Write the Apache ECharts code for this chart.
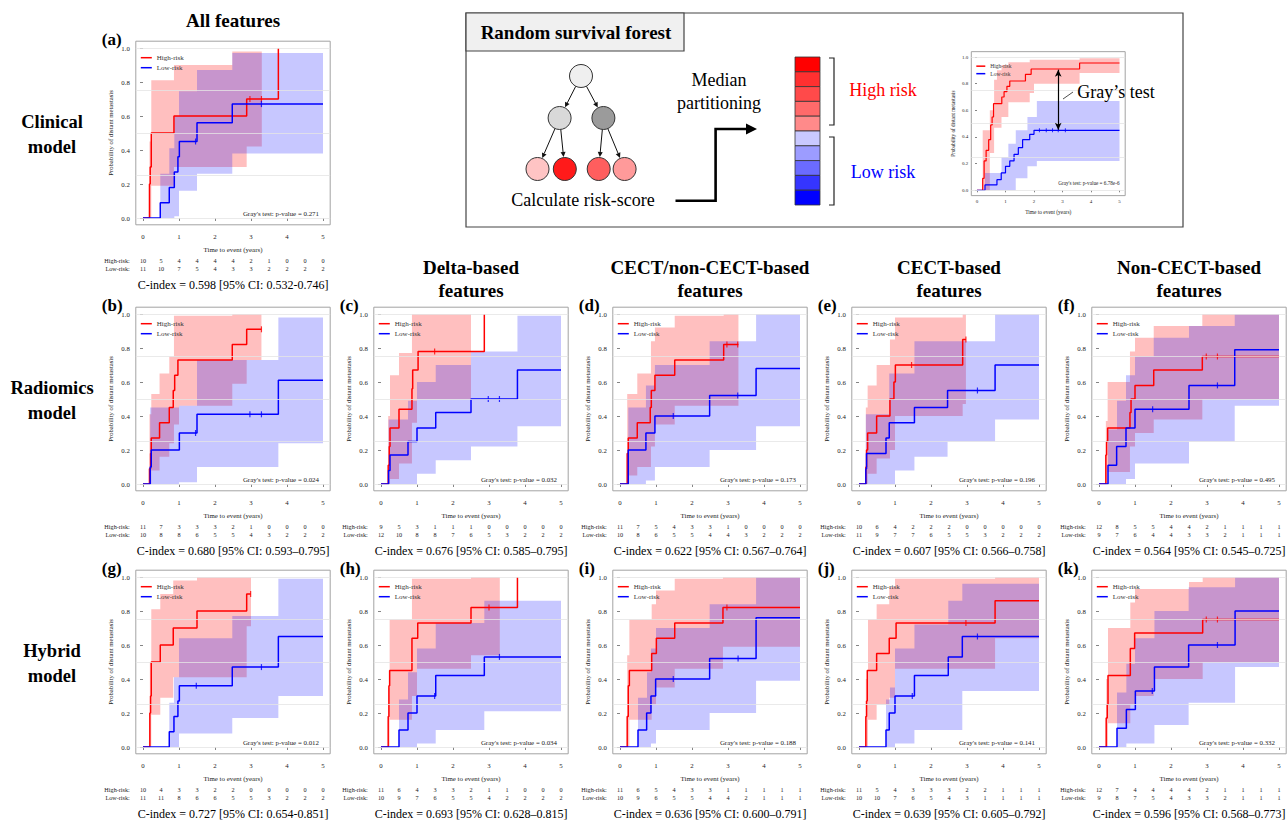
<!DOCTYPE html>
<html><head><meta charset="utf-8">
<script src="https://cdn.jsdelivr.net/npm/echarts@6/dist/echarts.min.js"></script>
<style>html,body{margin:0;padding:0;background:#fff}#c{width:1287px;height:823px}</style>
</head><body><div id="c"></div><script>
const FONT = "'Liberation Serif','Times New Roman',serif";
const riskTimes = [0,0.5,1,1.5,2,2.5,3,3.5,4,4.5,5];
const xTicks = [0,1,2,3,4,5];
const yTicks = [0,0.2,0.4,0.6,0.8,1];
const refLines = [0,0.25,0.5,0.75,1];
const colTitles = ['All features','Delta-based\nfeatures','CECT/non-CECT-based\nfeatures','CECT-based\nfeatures','Non-CECT-based\nfeatures'];
const rowTitles = ['Clinical\nmodel','Radiomics\nmodel','Hybrid\nmodel'];

// (a) Clinical, all features
const aHighT=[0,0.18,0.2,0.23,0.86,2.88,3.76];
const aHighY=[0,0.2,0.3,0.5,0.6,0.7,1.0];
const aHighCens=[2.97,3.29];
const aHighBandT=[0.18,0.23,0.86,2.48,2.88,3.3];
const aHighBandLo=[0,0.19,0.3,0.3,0.42];
const aHighBandHi=[0.45,0.81,0.9,0.98,0.98];
const aLowT=[0,0.48,0.73,0.87,0.97,1.01,1.5,2.48,5];
const aLowY=[0,0.09,0.18,0.27,0.36,0.45,0.56,0.67,0.67];
const aLowCens=[1.46,3.29];
const aLowBandT=[0.48,0.73,0.87,1.0,1.5,2.48,5];
const aLowBandLo=[0,0,0.01,0.16,0.26,0.38];
const aLowBandHi=[0.26,0.41,0.6,0.745,0.87,0.97];
const aRiskHigh=[10,5,4,4,4,4,2,1,0,0,0];
const aRiskLow=[11,10,7,5,4,3,3,2,2,2,2];

// (b)
const bHighT=[0,0.18,0.21,0.23,0.46,0.73,0.84,0.88,0.97,2.48,2.88,3.29];
const bHighY=[0,0.09,0.18,0.27,0.36,0.45,0.55,0.64,0.73,0.82,0.91,0.91];
const bHighCens=[3.29];
const bHighBandT=[0.18,0.23,0.46,0.73,0.86,1.0,1.5,2.48,2.88,3.29];
const bHighBandLo=[0,0.08,0.16,0.24,0.35,0.46,0.46,0.59,0.73];
const bHighBandHi=[0.41,0.53,0.65,0.75,0.99,0.99,0.99,1.0,1.0];
const bLowT=[0,0.2,0.23,1.01,1.5,3.76,5];
const bLowY=[0,0.1,0.2,0.3,0.41,0.61,0.61];
const bLowCens=[1.46,2.97,3.29];
const bLowBandT=[0.2,0.5,1.0,1.5,3.76,5];
const bLowBandLo=[0,0,0.01,0.1,0.24];
const bLowBandHi=[0.45,0.45,0.46,0.73,0.98];
const bRiskHigh=[11,7,3,3,3,2,1,0,0,0,0];
const bRiskLow=[10,8,8,6,5,5,4,3,2,2,2];

// (c)
const cHighT=[0,0.2,0.23,0.25,0.5,0.86,0.88,1.03,2.87];
const cHighY=[0,0.11,0.22,0.33,0.44,0.56,0.67,0.78,1.0];
const cHighCens=[1.49];
const cHighBandT=[0.2,0.25,0.5,0.86,1.0,2.5];
const cHighBandLo=[0,0.03,0.12,0.36,0.5];
const cHighBandHi=[0.4,0.64,0.77,1.0,1.0];
const cLowT=[0,0.21,0.25,0.75,1.0,1.52,2.5,3.79,5];
const cLowY=[0,0.08,0.17,0.25,0.33,0.42,0.5,0.67,0.67];
const cLowCens=[2.98,3.29];
const cLowBandT=[0.21,0.75,1.0,1.52,2.5,3.79,5];
const cLowBandLo=[0,0,0.06,0.14,0.22,0.34];
const cLowBandHi=[0.38,0.49,0.6,0.7,0.78,0.99];
const cRiskHigh=[9,5,3,1,1,1,0,0,0,0,0];
const cRiskLow=[12,10,8,8,7,6,5,3,2,2,2];

// (d)
const dHighT=[0,0.2,0.23,0.48,0.84,0.87,0.97,1.52,2.88,3.29];
const dHighY=[0,0.18,0.27,0.36,0.45,0.55,0.64,0.73,0.82,0.82];
const dHighCens=[2.97,3.27];
const dHighBandT=[0.2,0.48,0.86,0.97,1.52,2.88,3.29];
const dHighBandLo=[0.05,0.1,0.22,0.35,0.46,0.46];
const dHighBandHi=[0.53,0.65,0.84,0.92,0.99,1.0];
const dLowT=[0,0.23,0.72,0.97,2.49,3.78,5];
const dLowY=[0,0.2,0.3,0.4,0.52,0.68,0.68];
const dLowCens=[1.48,3.27];
const dLowBandT=[0.23,0.5,0.72,0.97,2.49,3.78,5];
const dLowBandLo=[0,0,0.02,0.1,0.2,0.34];
const dLowBandHi=[0.45,0.45,0.58,0.7,0.84,1.0];
const dRiskHigh=[11,7,5,4,3,3,1,0,0,0,0];
const dRiskLow=[10,8,6,5,5,4,4,3,2,2,2];

// (e)
const eHighT=[0,0.19,0.21,0.24,0.49,0.86,0.97,1.01,2.88,2.97];
const eHighY=[0,0.1,0.2,0.3,0.4,0.5,0.6,0.7,0.85,0.85];
const eHighCens=[1.46,2.97];
const eHighBandT=[0.19,0.24,0.49,0.86,1.0,2.88,2.97];
const eHighBandLo=[0,0.06,0.15,0.2,0.4,0.47];
const eHighBandHi=[0.45,0.58,0.7,0.85,0.98,1.0];
const eLowT=[0,0.19,0.21,0.75,0.84,1.54,2.46,3.78,5];
const eLowY=[0,0.09,0.18,0.27,0.36,0.45,0.55,0.7,0.7];
const eLowCens=[3.29];
const eLowBandT=[0.19,0.5,0.84,1.0,1.54,2.46,3.78,5];
const eLowBandLo=[0,0,0,0.08,0.16,0.25,0.38];
const eLowBandHi=[0.41,0.41,0.65,0.65,0.84,0.84,1.0];
const eRiskHigh=[10,6,4,2,2,2,0,0,0,0,0];
const eRiskLow=[11,9,7,7,6,5,5,3,2,2,2];

// (f)
const fHighT=[0,0.19,0.21,0.24,0.86,0.89,1.0,1.52,2.87,5];
const fHighY=[0,0.17,0.25,0.33,0.42,0.5,0.58,0.67,0.75,0.75];
const fHighCens=[2.98,3.29];
const fHighBandT=[0.19,0.24,0.5,0.86,1.0,1.52,2.87,3.8,5];
const fHighBandLo=[0,0.07,0.07,0.22,0.3,0.38,0.5,0.5];
const fHighBandHi=[0.37,0.6,0.6,0.78,0.86,0.93,1.0,1.0];
const fLowT=[0,0.25,0.49,0.75,1.0,2.5,3.77,5];
const fLowY=[0,0.11,0.22,0.33,0.44,0.58,0.79,0.79];
const fLowCens=[1.49,3.29];
const fLowBandT=[0.25,0.5,0.75,1.0,1.52,2.5,3.77,5];
const fLowBandLo=[0,0,0.03,0.12,0.12,0.25,0.46];
const fLowBandHi=[0.32,0.49,0.64,0.75,0.86,0.93,1.0];
const fRiskHigh=[12,8,5,5,4,4,2,1,1,1,1];
const fRiskLow=[9,7,6,4,4,3,3,2,1,1,1];

// (g)
const gHighT=[0,0.19,0.21,0.23,0.48,0.84,1.5,2.88,2.99];
const gHighY=[0,0.2,0.3,0.5,0.6,0.7,0.8,0.9,0.9];
const gHighCens=[2.99];
const gHighBandT=[0.19,0.23,0.48,0.84,1.5,2.88,3.0];
const gHighBandLo=[0,0.19,0.29,0.41,0.41,0.71];
const gHighBandHi=[0.5,0.81,0.9,0.98,1.0,1.0];
const gLowT=[0,0.73,0.86,0.97,1.01,2.48,3.76,5];
const gLowY=[0,0.09,0.18,0.27,0.36,0.47,0.65,0.65];
const gLowCens=[1.48,3.29];
const gLowBandT=[0.73,0.86,1.0,2.48,3.76,5];
const gLowBandLo=[0,0,0.08,0.17,0.3];
const gLowBandHi=[0.26,0.41,0.64,0.77,0.99];
const gRiskHigh=[10,4,3,3,2,2,0,0,0,0,0];
const gRiskLow=[11,11,8,6,6,5,5,3,2,2,2];

// (h)
const hHighT=[0,0.2,0.22,0.24,0.86,1.02,2.5,3.79];
const hHighY=[0,0.18,0.36,0.45,0.64,0.73,0.82,1.0];
const hHighCens=[3.0];
const hHighBandT=[0.2,0.24,0.86,1.0,2.5,3.3];
const hHighBandLo=[0,0.16,0.3,0.46,0.54];
const hHighBandHi=[0.35,0.75,0.99,0.99,1.0];
const hLowT=[0,0.5,0.75,1.0,1.52,2.87,5];
const hLowY=[0,0.1,0.2,0.3,0.42,0.53,0.53];
const hLowCens=[1.49,3.29];
const hLowBandT=[0.5,0.75,1.0,1.52,2.87,5];
const hLowBandLo=[0,0,0.02,0.1,0.21];
const hLowBandHi=[0.28,0.44,0.58,0.73,0.86];
const hRiskHigh=[11,6,4,3,3,2,1,1,0,0,0];
const hRiskLow=[10,9,7,6,5,5,4,2,2,2,2];

// (i)
const iHighT=[0,0.2,0.23,0.26,0.88,1.01,1.52,2.86,5];
const iHighY=[0,0.18,0.36,0.45,0.55,0.64,0.73,0.82,0.82];
const iHighCens=[2.97];
const iHighBandT=[0.2,0.26,0.88,1.0,1.52,2.86,5];
const iHighBandLo=[0,0.16,0.25,0.35,0.46,0.59];
const iHighBandHi=[0.54,0.75,0.84,0.92,0.99,1.0];
const iLowT=[0,0.5,0.74,0.86,0.99,2.49,3.78,5];
const iLowY=[0,0.1,0.2,0.3,0.4,0.52,0.76,0.76];
const iLowCens=[1.48,3.28];
const iLowBandT=[0.5,0.75,0.86,1.0,2.49,3.78,5];
const iLowBandLo=[0,0,0.02,0.1,0.2,0.39];
const iLowBandHi=[0.29,0.44,0.58,0.7,0.84,1.0];
const iRiskHigh=[11,6,5,4,3,3,1,1,1,1,1];
const iRiskLow=[10,9,6,5,5,4,4,2,1,1,1];

// (j)
const jHighT=[0,0.19,0.21,0.23,0.49,0.84,1.03,3.78,5];
const jHighY=[0,0.18,0.27,0.45,0.55,0.64,0.73,0.86,0.86];
const jHighCens=[2.97];
const jHighBandT=[0.19,0.25,0.49,0.84,1.0,3.78,5];
const jHighBandLo=[0,0.16,0.25,0.29,0.46,0.64];
const jHighBandHi=[0.4,0.75,0.84,0.94,0.99,1.0];
const jLowT=[0,0.75,0.84,1.0,1.54,2.48,2.87,5];
const jLowY=[0,0.1,0.2,0.3,0.42,0.53,0.65,0.65];
const jLowCens=[1.48,3.29];
const jLowBandT=[0.75,0.86,1.0,1.54,2.48,2.87,5];
const jLowBandLo=[0,0,0.02,0.1,0.1,0.33];
const jLowBandHi=[0.28,0.35,0.58,0.72,0.86,0.96];
const jRiskHigh=[11,5,4,3,3,3,2,2,1,1,1];
const jRiskLow=[10,10,7,6,5,4,3,1,1,1,1];

// (k)
const kHighT=[0,0.2,0.23,0.25,0.87,0.99,2.88,5];
const kHighY=[0,0.17,0.25,0.42,0.58,0.67,0.75,0.75];
const kHighCens=[2.98,3.29];
const kHighBandT=[0.2,0.25,0.87,1.0,1.52,2.5,2.88,5];
const kHighBandLo=[0,0.14,0.25,0.3,0.4,0.4,0.5];
const kHighBandHi=[0.4,0.7,0.85,0.93,0.93,0.97,1.0];
const kLowT=[0,0.5,0.76,1.01,1.54,2.49,3.78,5];
const kLowY=[0,0.11,0.22,0.33,0.47,0.6,0.8,0.8];
const kLowCens=[1.48,3.29];
const kLowBandT=[0.5,0.76,1.0,1.54,2.49,3.78,5];
const kLowBandLo=[0,0.02,0.02,0.13,0.26,0.47];
const kLowBandHi=[0.32,0.49,0.64,0.8,0.94,1.0];
const kRiskHigh=[12,7,4,4,4,4,2,1,1,1,1];
const kRiskLow=[9,8,7,5,4,3,3,2,1,1,1];

// schematic inset (random survival forest example)
const sHighT=[0,0.2,0.25,0.32,0.41,0.48,0.53,0.58,0.87,0.95,1.05,1.15,1.7,1.9,3.6,5];
const sHighY=[0,0.09,0.22,0.3,0.38,0.49,0.55,0.65,0.7,0.74,0.78,0.82,0.87,0.91,0.955,0.955];
const sHighCens=[];
const sHighBandT=[0.2,0.45,0.6,0.7,0.86,1.1,1.85,2.0,3.6,5];
const sHighBandLo=[0,0.28,0.47,0.47,0.55,0.66,0.73,0.8,0.88];
const sHighBandHi=[0.45,0.6,0.83,0.9,0.94,0.96,0.98,0.98,0.99];
const sLowT=[0,0.28,0.7,0.85,1.0,1.15,1.3,1.45,1.6,1.85,2.0,5];
const sLowY=[0,0.04,0.08,0.13,0.18,0.22,0.27,0.32,0.38,0.42,0.45,0.45];
const sLowCens=[2.19,2.43,2.65,2.85,3.1];
const sLowBandT=[0.28,0.86,1.1,1.36,1.77,2.1,5];
const sLowBandLo=[0,0,0,0.09,0.18,0.22];
const sLowBandHi=[0.13,0.25,0.35,0.45,0.55,0.67];
const sGrayArrow=[[2.85,0.905],[2.85,0.455]];

const panels = [
 {lab:'(a)',col:0,row:0,p:'0.271',ci:'C-index = 0.598 [95% CI: 0.532-0.746]',hT:aHighT,hY:aHighY,hC:aHighCens,hBT:aHighBandT,hBL:aHighBandLo,hBH:aHighBandHi,lT:aLowT,lY:aLowY,lC:aLowCens,lBT:aLowBandT,lBL:aLowBandLo,lBH:aLowBandHi,rH:aRiskHigh,rL:aRiskLow},
 {lab:'(b)',col:0,row:1,p:'0.024',ci:'C-index = 0.680 [95% CI: 0.593–0.795]',hT:bHighT,hY:bHighY,hC:bHighCens,hBT:bHighBandT,hBL:bHighBandLo,hBH:bHighBandHi,lT:bLowT,lY:bLowY,lC:bLowCens,lBT:bLowBandT,lBL:bLowBandLo,lBH:bLowBandHi,rH:bRiskHigh,rL:bRiskLow},
 {lab:'(c)',col:1,row:1,p:'0.032',ci:'C-index = 0.676 [95% CI: 0.585–0.795]',hT:cHighT,hY:cHighY,hC:cHighCens,hBT:cHighBandT,hBL:cHighBandLo,hBH:cHighBandHi,lT:cLowT,lY:cLowY,lC:cLowCens,lBT:cLowBandT,lBL:cLowBandLo,lBH:cLowBandHi,rH:cRiskHigh,rL:cRiskLow},
 {lab:'(d)',col:2,row:1,p:'0.173',ci:'C-index = 0.622 [95% CI: 0.567–0.764]',hT:dHighT,hY:dHighY,hC:dHighCens,hBT:dHighBandT,hBL:dHighBandLo,hBH:dHighBandHi,lT:dLowT,lY:dLowY,lC:dLowCens,lBT:dLowBandT,lBL:dLowBandLo,lBH:dLowBandHi,rH:dRiskHigh,rL:dRiskLow},
 {lab:'(e)',col:3,row:1,p:'0.196',ci:'C-index = 0.607 [95% CI: 0.566–0.758]',hT:eHighT,hY:eHighY,hC:eHighCens,hBT:eHighBandT,hBL:eHighBandLo,hBH:eHighBandHi,lT:eLowT,lY:eLowY,lC:eLowCens,lBT:eLowBandT,lBL:eLowBandLo,lBH:eLowBandHi,rH:eRiskHigh,rL:eRiskLow},
 {lab:'(f)',col:4,row:1,p:'0.495',ci:'C-index = 0.564 [95% CI: 0.545–0.725]',hT:fHighT,hY:fHighY,hC:fHighCens,hBT:fHighBandT,hBL:fHighBandLo,hBH:fHighBandHi,lT:fLowT,lY:fLowY,lC:fLowCens,lBT:fLowBandT,lBL:fLowBandLo,lBH:fLowBandHi,rH:fRiskHigh,rL:fRiskLow},
 {lab:'(g)',col:0,row:2,p:'0.012',ci:'C-index = 0.727 [95% CI: 0.654-0.851]',hT:gHighT,hY:gHighY,hC:gHighCens,hBT:gHighBandT,hBL:gHighBandLo,hBH:gHighBandHi,lT:gLowT,lY:gLowY,lC:gLowCens,lBT:gLowBandT,lBL:gLowBandLo,lBH:gLowBandHi,rH:gRiskHigh,rL:gRiskLow},
 {lab:'(h)',col:1,row:2,p:'0.034',ci:'C-index = 0.693 [95% CI: 0.628–0.815]',hT:hHighT,hY:hHighY,hC:hHighCens,hBT:hHighBandT,hBL:hHighBandLo,hBH:hHighBandHi,lT:hLowT,lY:hLowY,lC:hLowCens,lBT:hLowBandT,lBL:hLowBandLo,lBH:hLowBandHi,rH:hRiskHigh,rL:hRiskLow},
 {lab:'(i)',col:2,row:2,p:'0.188',ci:'C-index = 0.636 [95% CI: 0.600–0.791]',hT:iHighT,hY:iHighY,hC:iHighCens,hBT:iHighBandT,hBL:iHighBandLo,hBH:iHighBandHi,lT:iLowT,lY:iLowY,lC:iLowCens,lBT:iLowBandT,lBL:iLowBandLo,lBH:iLowBandHi,rH:iRiskHigh,rL:iRiskLow},
 {lab:'(j)',col:3,row:2,p:'0.141',ci:'C-index = 0.639 [95% CI: 0.605–0.792]',hT:jHighT,hY:jHighY,hC:jHighCens,hBT:jHighBandT,hBL:jHighBandLo,hBH:jHighBandHi,lT:jLowT,lY:jLowY,lC:jLowCens,lBT:jLowBandT,lBL:jLowBandLo,lBH:jLowBandHi,rH:jRiskHigh,rL:jRiskLow},
 {lab:'(k)',col:4,row:2,p:'0.332',ci:'C-index = 0.596 [95% CI: 0.568–0.773]',hT:kHighT,hY:kHighY,hC:kHighCens,hBT:kHighBandT,hBL:kHighBandLo,hBH:kHighBandHi,lT:kLowT,lY:kLowY,lC:kLowCens,lBT:kLowBandT,lBL:kLowBandLo,lBH:kLowBandHi,rH:kRiskHigh,rL:kRiskLow}
];
const inset = {p:'6.78e-6',hT:sHighT,hY:sHighY,hC:sHighCens,hBT:sHighBandT,hBL:sHighBandLo,hBH:sHighBandHi,lT:sLowT,lY:sLowY,lC:sLowCens,lBT:sLowBandT,lBL:sLowBandLo,lBH:sLowBandHi,arrow:sGrayArrow};

// ---------- layout ----------
const colX0=[143,381,620,859,1099];
const rowY1=[48,314,577];
const LM = {ux:36,uy:170,fsTick:6.8,fsName:6.9,fsYName:6.7,fsRisk:6.2,fsLeg:7,fsGray:6.9,tickLen:3,xLabMargin:8,nameGap:21,yNameGap:22,yLabMargin:6,legTop:12,legW:11,legGap:1,legLH:9,cens:[1.2,6],lw:1.5,riskOff1:33,riskOff2:41,grayDx:-4,grayDy:-5};
const LI = {ux:28.5,uy:133.3,fsTick:5,fsName:5.4,fsYName:5.2,fsRisk:5,fsLeg:5.5,fsGray:5.2,tickLen:2,xLabMargin:3,nameGap:14,yNameGap:16,yLabMargin:3,legTop:11,legW:9,legGap:0.5,legLH:7,cens:[1,4],lw:1.2,grayDx:0,grayDy:-7};

const grids=[], xAxes=[], yAxes=[], series=[], legends=[], graphics=[];
const TXT = {fontFamily:FONT,color:'#222'};

function stepAt(T,Y,t){let v=Y[0];for(let i=0;i<T.length;i++){if(T[i]<=t)v=Y[i];}return v;}
function bandSeries(xi,yi,bt,bl,bh,color){
  return {type:'custom',xAxisIndex:xi,yAxisIndex:yi,silent:true,z:1,clip:false,
    data:[[bt[0],bl[0]]],
    renderItem:function(params,api){
      const pts=[];
      for(let i=0;i<bh.length;i++){pts.push(api.coord([bt[i],bh[i]]));pts.push(api.coord([bt[i+1],bh[i]]));}
      for(let i=bl.length-1;i>=0;i--){pts.push(api.coord([bt[i+1],bl[i]]));pts.push(api.coord([bt[i],bl[i]]));}
      return {type:'polygon',shape:{points:pts},style:{fill:color,stroke:null}};
    }};
}
function T(text,x,y,o){o=o||{};const al=o.align||'center',va=o.va||'middle';
  return {type:'text',x:x,y:y,z:50,style:{text:text,fontSize:o.fs||12,fontFamily:FONT,fontWeight:o.fw||'normal',fill:o.color||'#111',align:al,textAlign:al,verticalAlign:va,textVerticalAlign:va,lineHeight:o.lh||undefined}};}

function addPlot(P,L,x0,y1){
  const gl=x0-0.2*L.ux, gt=y1-0.04*L.uy, gw=5.4*L.ux, gh=1.08*L.uy;
  const gi=grids.length;
  grids.push({left:gl,top:gt,width:gw,height:gh,show:true,borderColor:'#a3a3a3',borderWidth:1,backgroundColor:'transparent',containLabel:false});
  const xi=xAxes.length;
  xAxes.push({gridIndex:gi,type:'value',min:-0.2,max:5.2,position:'bottom',axisLine:{show:false},splitLine:{show:false},
    axisTick:{show:true,customValues:xTicks,length:L.tickLen,lineStyle:{color:'#666',width:0.8}},
    axisLabel:{customValues:xTicks,fontSize:L.fsTick,margin:L.xLabMargin,...TXT},
    name:'Time to event (years)',nameLocation:'middle',nameGap:L.nameGap,nameTextStyle:{fontSize:L.fsName,...TXT}});
  if(P.rH){
    [[P.rH,'High-risk:',L.riskOff1],[P.rL,'Low-risk:',L.riskOff2]].forEach(function(r){
      const arr=r[0];
      xAxes.push({gridIndex:gi,type:'value',min:-0.2,max:5.2,position:'bottom',offset:r[2],axisLine:{show:false},axisTick:{show:false},splitLine:{show:false},
        axisLabel:{customValues:riskTimes,margin:0,fontSize:L.fsRisk,...TXT,formatter:function(v){return String(arr[Math.round(v*2)]);}},
        name:r[1],nameLocation:'start',nameGap:6,nameTextStyle:{fontSize:L.fsRisk,...TXT,verticalAlign:'top'}});
    });
  }
  const yi=yAxes.length;
  yAxes.push({gridIndex:gi,type:'value',min:-0.04,max:1.04,axisLine:{show:false},splitLine:{show:false},
    axisTick:{show:true,customValues:yTicks,length:L.tickLen,lineStyle:{color:'#666',width:0.8}},
    axisLabel:{customValues:yTicks,fontSize:L.fsTick,margin:L.yLabMargin,...TXT,formatter:function(v){return v.toFixed(1);}},
    name:'Probability of distant metastasis',nameLocation:'middle',nameGap:L.yNameGap,nameRotate:90,nameTextStyle:{fontSize:L.fsYName,...TXT}});
  series.push(bandSeries(xi,yi,P.hBT,P.hBL,P.hBH,'rgba(255,0,0,0.25)'));
  series.push(bandSeries(xi,yi,P.lBT,P.lBL,P.lBH,'rgba(0,0,255,0.22)'));
  series.push({type:'line',name:'High-risk',xAxisIndex:xi,yAxisIndex:yi,step:'end',symbol:'none',showSymbol:false,silent:true,z:3,
    data:P.hT.map(function(t,i){return [t,P.hY[i]];}),lineStyle:{color:'#ff0000',width:L.lw},itemStyle:{color:'#ff0000'},
    markLine:{silent:true,symbol:'none',label:{show:false},lineStyle:{color:'#e4e4e4',type:'solid',width:0.8},data:refLines.map(function(v){return {yAxis:v};})}});
  const blue={type:'line',name:'Low-risk',xAxisIndex:xi,yAxisIndex:yi,step:'end',symbol:'none',showSymbol:false,silent:true,z:3,
    data:P.lT.map(function(t,i){return [t,P.lY[i]];}),lineStyle:{color:'#0000ff',width:L.lw},itemStyle:{color:'#0000ff'}};
  if(P.arrow){
    blue.markLine={silent:true,symbol:['arrow','arrow'],symbolSize:[5,7],label:{show:false},lineStyle:{color:'#000',type:'solid',width:1.2},
      data:[[{coord:P.arrow[0]},{coord:P.arrow[1]}]]};
  }
  series.push(blue);
  if(P.hC.length) series.push({type:'scatter',xAxisIndex:xi,yAxisIndex:yi,silent:true,z:4,symbol:'rect',symbolSize:L.cens,itemStyle:{color:'#ff0000'},
    data:P.hC.map(function(t){return [t,stepAt(P.hT,P.hY,t)];})});
  if(P.lC.length) series.push({type:'scatter',xAxisIndex:xi,yAxisIndex:yi,silent:true,z:4,symbol:'rect',symbolSize:L.cens,itemStyle:{color:'#0000ff'},
    data:P.lC.map(function(t){return [t,stepAt(P.lT,P.lY,t)];})});
  legends.push({left:gl+5,top:gt+L.legTop,orient:'vertical',padding:0,itemGap:L.legGap,itemWidth:L.legW,itemHeight:1.5,icon:'rect',selectedMode:false,
    data:['High-risk','Low-risk'],textStyle:{fontSize:L.fsLeg,fontFamily:FONT,color:'#333',lineHeight:L.legLH}});
  const y0=y1+L.uy;
  graphics.push(T("Gray's test: p-value = "+P.p, x0+5*L.ux+L.grayDx, y0+L.grayDy, {fs:L.fsGray,align:'right',color:'#222'}));
  return {gl:gl,gt:gt,gw:gw,gh:gh,y0:y0};
}

panels.forEach(function(P){
  const x0=colX0[P.col], y1=rowY1[P.row];
  const g=addPlot(P,LM,x0,y1);
  graphics.push(T(P.lab,g.gl-34,g.gt-2,{fs:17,fw:'bold',align:'left',color:'#000'}));
  graphics.push(T(P.ci,x0+90,g.gt+g.gh+60,{fs:12,color:'#000'}));
});

// column and row headers
graphics.push(T(colTitles[0],colX0[0]+90,20,{fs:19,fw:'bold',color:'#000'}));
for(let c=1;c<5;c++) graphics.push(T(colTitles[c],colX0[c]+90,279,{fs:19,fw:'bold',color:'#000',lh:23}));
for(let r=0;r<3;r++) graphics.push(T(rowTitles[r],52,rowY1[r]+86,{fs:18.5,fw:'bold',color:'#000',lh:25}));

// ---------- schematic ----------
graphics.push({type:'rect',z:5,shape:{x:466,y:13,width:717,height:214},style:{fill:null,stroke:'#444',lineWidth:1.2}});
graphics.push({type:'rect',z:6,shape:{x:466,y:13,width:218,height:38},style:{fill:'#f0f0f0',stroke:'#444',lineWidth:1.2}});
graphics.push(T('Random survival forest',576,32,{fs:19,fw:'bold',color:'#000'}));
function arrowEls(x1,y1,x2,y2,lw,hl,hw){
  const dx=x2-x1,dy=y2-y1,len=Math.hypot(dx,dy),ux=dx/len,uy=dy/len,bx=x2-ux*hl,by=y2-uy*hl;
  return [{type:'line',z:20,shape:{x1:x1,y1:y1,x2:bx,y2:by},style:{stroke:'#111',lineWidth:lw}},
          {type:'polygon',z:20,shape:{points:[[x2,y2],[bx-uy*hw,by+ux*hw],[bx+uy*hw,by-ux*hw]]},style:{fill:'#111'}}];
}
const nodes=[[581,76,'#efefef'],[559.6,118,'#d9d9d9'],[603.4,118,'#9b9b9b'],[537.5,169,'#ffc4c4'],[564.8,169,'#ff1a1a'],[598.7,169,'#ff5e5e'],[624.6,169,'#ff9a9a']];
const edges=[[0,1],[0,2],[1,3],[1,4],[2,5],[2,6]];
const NR=11.5;
edges.forEach(function(e){
  const a=nodes[e[0]],b=nodes[e[1]],dx=b[0]-a[0],dy=b[1]-a[1],len=Math.hypot(dx,dy),ux=dx/len,uy=dy/len;
  arrowEls(a[0]+ux*NR,a[1]+uy*NR,b[0]-ux*(NR+0.5),b[1]-uy*(NR+0.5),1,5,2.5).forEach(function(el){graphics.push(el);});
});
nodes.forEach(function(n){graphics.push({type:'circle',z:21,shape:{cx:n[0],cy:n[1],r:NR},style:{fill:n[2],stroke:'#333',lineWidth:1}});});
graphics.push(T('Calculate risk-score',583,200,{fs:18,color:'#000'}));
graphics.push(T('Median\npartitioning',719,91,{fs:18,color:'#000',lh:23}));
graphics.push({type:'polyline',z:20,shape:{points:[[675.5,200.7],[715.6,200.7],[715.6,129],[748,129]]},style:{stroke:'#000',lineWidth:2.6,fill:null}});
graphics.push({type:'polygon',z:20,shape:{points:[[757,129],[746,123.5],[746,134.5]]},style:{fill:'#000'}});
const barColors=['#ff0000','#ff3030','#ff4a4a','#ff6a6a','#ff8a8a','#c9c9ff','#9c9cff','#6b6bff','#3535ff','#0000ff'];
const barTop=57, barH=14.8;
barColors.forEach(function(c,i){graphics.push({type:'rect',z:20,shape:{x:795,y:barTop+i*barH,width:25,height:barH},style:{fill:c,stroke:'#333',lineWidth:0.8}});});
graphics.push({type:'polyline',z:20,shape:{points:[[829,58],[834,58],[834,125],[829,125]]},style:{stroke:'#222',lineWidth:1.2,fill:null}});
graphics.push({type:'polyline',z:20,shape:{points:[[829,137],[834,137],[834,205],[829,205]]},style:{stroke:'#222',lineWidth:1.2,fill:null}});
graphics.push(T('High risk',883,90,{fs:18,color:'#ff0000'}));
graphics.push(T('Low risk',883,172,{fs:18,color:'#0000ff'}));
graphics.push(T('Gray’s test',1116,92,{fs:18,color:'#000'}));
graphics.push({type:'line',z:20,shape:{x1:1063,y1:99,x2:1073,y2:92},style:{stroke:'#222',lineWidth:0.8}});

addPlot(inset,LI,977,57);

const chart=echarts.init(document.getElementById('c'),null,{renderer:'svg'});
chart.setOption({animation:false,backgroundColor:'#fff',grid:grids,xAxis:xAxes,yAxis:yAxes,series:series,legend:legends,graphic:{elements:graphics}});
</script></body></html>
